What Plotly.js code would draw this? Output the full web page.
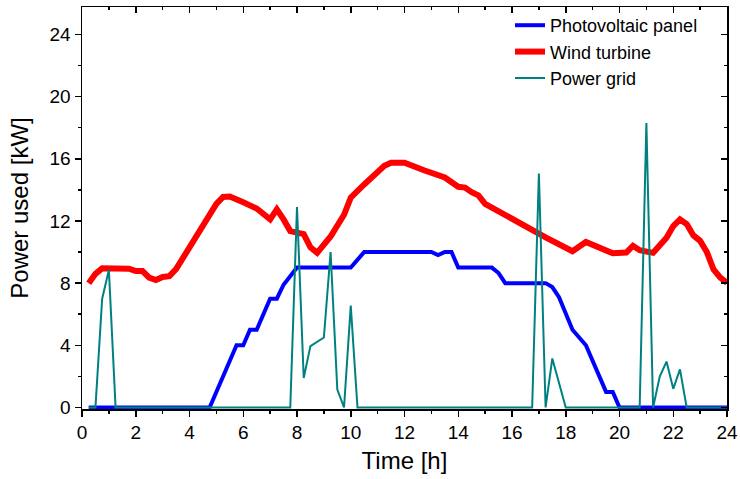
<!DOCTYPE html>
<html>
<head>
<meta charset="utf-8">
<script src="https://cdn.plot.ly/plotly-3.0.1.min.js"></script>
<style>html,body{margin:0;padding:0;background:#fff;}#chart{width:740px;height:479px;}</style>
</head>
<body>
<div id="chart"></div>
<script>
// Photovoltaic panel
var pvX = [0.25,4.75,5.75,6.0,6.25,6.5,7.0,7.25,7.5,7.75,8.0,10.0,10.5,13.0,13.25,13.5,13.75,14.0,15.25,15.5,15.75,17.25,17.5,17.75,18.25,18.75,19.5,19.75,20.0,24.0];
var pvY = [0,0,4,4,5,5,7,7,7.9,8.5,9,9,10,10,9.8,10,10,9,9,8.65,8,8,7.75,7.1,5,4,1,1,0,0];
// Wind turbine
var wtX = [0.25,0.5,0.75,1.75,2.0,2.25,2.5,2.75,3.0,3.25,3.5,4.0,4.5,5.0,5.25,5.5,6.0,6.5,7.0,7.25,7.5,7.75,8.25,8.5,8.75,9.25,9.75,10.0,10.5,11.25,11.5,12.0,12.75,13.5,14.0,14.25,14.5,14.75,15.0,17.0,17.25,18.25,18.75,19.75,20.25,20.5,20.75,21.25,21.5,21.75,22.0,22.25,22.5,22.75,23.0,23.25,23.5,23.75,24.0];
var wtY = [8.0,8.6,8.95,8.93,8.78,8.78,8.35,8.2,8.4,8.45,8.9,10.3,11.8,13.1,13.55,13.58,13.2,12.8,12.1,12.75,12.1,11.35,11.15,10.3,9.95,11.0,12.4,13.5,14.35,15.55,15.75,15.75,15.25,14.8,14.2,14.15,13.85,13.65,13.1,11.1,10.95,10.05,10.65,9.92,9.97,10.4,10.12,9.95,10.5,10.92,11.67,12.1,11.8,11.07,10.72,10.0,8.88,8.35,8.02];
// Power grid
var pgX = [0.25,0.5,0.75,1.0,1.25,7.75,8.0,8.25,8.5,9.0,9.25,9.5,9.75,10.0,10.25,16.75,17.0,17.25,17.5,18.0,20.75,21.0,21.25,21.5,21.75,22.0,22.25,22.5,24.0];
var pgY = [0,0,7,8.85,0,0,12.9,1.9,3.95,4.5,10,1.15,0,6.55,0,0,15.05,0,3.15,0,0,18.3,0,2.0,2.95,1.2,2.45,0,0];

var seriesNames = ["Photovoltaic panel","Wind turbine","Power grid"];
var xTicks = [0,2,4,6,8,10,12,14,16,18,20,22,24];
var yTicks = [0,4,8,12,16,20,24];

var font = "Liberation Sans, Arial, sans-serif";
var traces = [
  {x: pvX, y: pvY, name: seriesNames[0], mode: "lines", line: {color: "#0000FF", width: 4}},
  {x: wtX, y: wtY, name: seriesNames[1], mode: "lines", line: {color: "#FF0000", width: 6}},
  {x: pgX, y: pgY, name: seriesNames[2], mode: "lines", line: {color: "#008080", width: 2}},
  {x: [], y: [], xaxis: "x2", yaxis: "y2", showlegend: false, hoverinfo: "skip"}
];

var axCommon = {showgrid: false, zeroline: false, showline: true, linecolor: "#000", linewidth: 1.5,
  tickcolor: "#000", tickwidth: 1.5, ticklen: 6, tickfont: {family: font, size: 19, color: "#000"}};

var yRange = [-0.1, 25.77];
var layout = {
  width: 740, height: 479,
  margin: {l: 82, r: 13, t: 7, b: 70},
  paper_bgcolor: "#fff", plot_bgcolor: "#fff",
  font: {family: font, color: "#000"},
  showlegend: true,
  legend: {x: 0.6636, y: 1, xanchor: "left", yanchor: "top", bgcolor: "rgba(0,0,0,0)",
    font: {family: font, size: 18, color: "#000"}, tracegroupgap: 0},
  xaxis: Object.assign({}, axCommon, {range: [0, 24], tickvals: xTicks, ticktext: xTicks.map(String), ticks: "outside",
    minor: {dtick: 1, tick0: 0, ticks: "outside", ticklen: 3, tickcolor: "#000", tickwidth: 1.5},
    title: {text: "Time [h]", font: {family: font, size: 24, color: "#000"}, standoff: 10}}),
  yaxis: Object.assign({}, axCommon, {range: yRange, tickvals: yTicks, ticktext: yTicks.map(String), ticks: "outside",
    minor: {dtick: 2, tick0: 0, ticks: "outside", ticklen: 3, tickcolor: "#000", tickwidth: 1.5}, 
    title: {text: "Power used [kW]", font: {family: font, size: 24, color: "#000"}, standoff: 14}}),
  xaxis2: Object.assign({}, axCommon, {overlaying: "x", side: "top", range: [0, 24], tickvals: xTicks, ticks: "inside",
    showticklabels: false, minor: {dtick: 1, tick0: 0, ticks: "inside", ticklen: 3, tickcolor: "#000", tickwidth: 1.5}}),
  yaxis2: Object.assign({}, axCommon, {overlaying: "y", side: "right", range: yRange, tickvals: yTicks, ticks: "inside",
    showticklabels: false, minor: {dtick: 2, tick0: 0, ticks: "inside", ticklen: 3, tickcolor: "#000", tickwidth: 1.5}})
};

Plotly.newPlot("chart", traces, layout, {displayModeBar: false, staticPlot: true});
</script>
</body>
</html>
